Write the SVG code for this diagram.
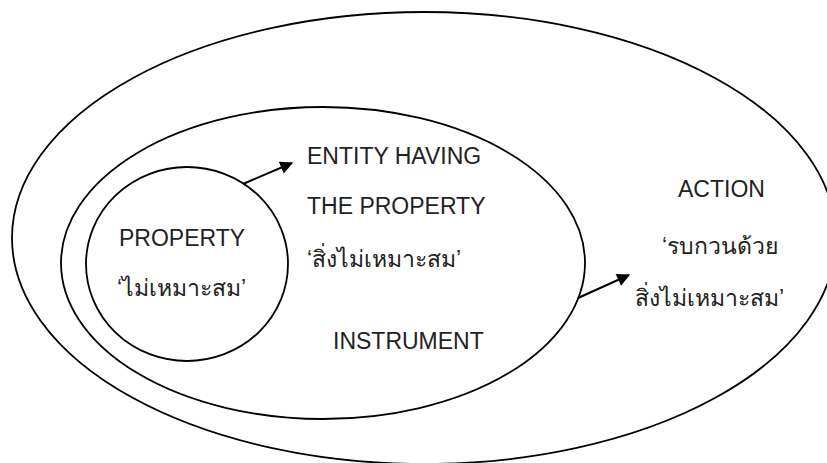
<svg xmlns="http://www.w3.org/2000/svg" width="827" height="463" viewBox="0 0 827 463">
<style>
.shape{fill:none;stroke:#000;stroke-width:1.8}
.lbl{font-family:"Liberation Sans","Noto Sans",Arial,sans-serif;font-size:23px;fill:#222}
.conn{stroke:#000;stroke-width:2;fill:none}
</style>
<defs>
<marker id="ah" viewBox="0 0 10 10" refX="9" refY="5" markerWidth="14" markerHeight="13" markerUnits="userSpaceOnUse" orient="auto">
<path d="M0,0 L10,5 L0,10 z" fill="#000"/>
</marker>
</defs>
<rect width="827" height="463" fill="#fff"/>
<g id="action">
<ellipse class="shape" cx="424" cy="238" rx="412" ry="226"/>
<text class="lbl" x="678" y="197">ACTION</text>
<text class="lbl" x="662" y="254">‘รบกวนด้วย</text>
<text class="lbl" x="635" y="306">สิ่งไม่เหมาะสม’</text>
</g>
<g id="instrument">
<ellipse class="shape" cx="323" cy="263" rx="262" ry="156"/>
<text class="lbl" x="307" y="164">ENTITY HAVING</text>
<text class="lbl" x="307" y="214">THE PROPERTY</text>
<text class="lbl" x="307" y="267">‘สิ่งไม่เหมาะสม’</text>
<text class="lbl" x="333" y="349">INSTRUMENT</text>
</g>
<g id="property">
<ellipse class="shape" cx="187" cy="264" rx="101" ry="97"/>
<text class="lbl" x="119" y="246">PROPERTY</text>
<text class="lbl" x="117" y="296">‘ไม่เหมาะสม’</text>
</g>
<g id="connectors">
<line class="conn" x1="243" y1="184" x2="292" y2="163" marker-end="url(#ah)"/>
<line class="conn" x1="578" y1="298" x2="629" y2="275" marker-end="url(#ah)"/>
</g>
</svg>
